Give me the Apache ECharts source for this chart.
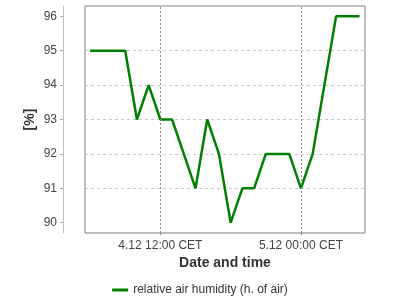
<!DOCTYPE html>
<html>
<head>
<meta charset="utf-8">
<script src="https://cdn.jsdelivr.net/npm/echarts@6/dist/echarts.min.js"></script>
<style>html,body{margin:0;padding:0;background:#fff;}#c{width:400px;height:300px;}</style>
</head>
<body>
<div id="c"></div>
<script>
// Time stamps (day.month hour:minute, CET) and relative humidity values [%]
const times = ['4.12 06:00','4.12 07:00','4.12 08:00','4.12 09:00','4.12 10:00','4.12 11:00',
  '4.12 12:00','4.12 13:00','4.12 14:00','4.12 15:00','4.12 16:00','4.12 17:00','4.12 18:00',
  '4.12 19:00','4.12 20:00','4.12 21:00','4.12 22:00','4.12 23:00','5.12 00:00','5.12 01:00',
  '5.12 02:00','5.12 03:00','5.12 04:00','5.12 05:00'];
const humidity = [95,95,95,95,93,94,93,93,92,91,93,92,90,91,91,92,92,92,91,92,94,96,96,96];
const xTickLabels = ['4.12 12:00','5.12 00:00'];
const yTicks = [90,91,92,93,94,95,96];
const seriesName = 'relative air humidity (h. of air)';
const xTitle = 'Date and time';
const yTitle = '[%]';
const BASE_DAY = 4, BASE_MONTH = 12;

// convert 'd.m HH:MM' to hours since 4.12 00:00
function toHours(s){
  const [dm, hm] = s.split(' ');
  const [d] = dm.split('.').map(Number);
  const [h, mi] = hm.split(':').map(Number);
  return (d - BASE_DAY) * 24 + h + mi / 60;
}
function fromHours(v){
  const day = BASE_DAY + Math.floor(v / 24 + 1e-9);
  const hh = Math.round(v - (day - BASE_DAY) * 24);
  const pad = n => (n < 10 ? '0' : '') + n;
  return day + '.' + BASE_MONTH + ' ' + pad(hh) + ':00 CET';
}
const data = times.map((t, i) => [toHours(t), humidity[i]]);
const xTicks = xTickLabels.map(toHours);
const xMin = toHours('4.12 05:34');
const xMax = toHours('5.12 05:28');

const chart = echarts.init(document.getElementById('c'), null, {renderer:'canvas'});
chart.setOption({
  animation: false,
  textStyle: {fontFamily: 'Liberation Sans, Arial, sans-serif'},
  grid: {left: 85, top: 6, right: 35, bottom: 67, show: true, borderColor: '#808080', borderWidth: 1, backgroundColor: '#fff'},
  xAxis: {
    type: 'value', min: xMin, max: xMax,
    name: xTitle, nameLocation: 'middle', nameGap: 23, nameMoveOverlap: false,
    nameTextStyle: {fontSize: 14, fontWeight: 'bold', color: '#333'},
    axisLine: {show: false},
    axisTick: {show: true, length: 3, lineStyle: {color: '#888', type: [2,2]}, customValues: xTicks},
    axisLabel: {margin: 7, fontSize: 12, color: '#444', hideOverlap: false, customValues: xTicks,
      formatter: fromHours},
    splitLine: {show: false}
  },
  yAxis: {
    type: 'value', min: 89.7, max: 96.3, offset: 22,
    name: yTitle, nameLocation: 'middle', nameGap: 26, nameMoveOverlap: false,
    nameTextStyle: {fontSize: 14, fontWeight: 'bold', color: '#333'},
    axisLine: {show: true, lineStyle: {color: '#c0c0c0'}},
    axisTick: {show: true, length: 3, lineStyle: {color: '#aaa'}, customValues: yTicks},
    axisLabel: {margin: 6, fontSize: 12, color: '#444', customValues: yTicks},
    splitLine: {show: true, showMinLine: false, showMaxLine: false, lineStyle: {color: '#c8c8c8', type: [3,3]}}
  },
  legend: {
    top: 279, left: 'center', icon: 'rect', itemWidth: 16, itemHeight: 3,
    textStyle: {fontSize: 12, color: '#333'}
  },
  series: [{
    name: seriesName, type: 'line', data: data, showSymbol: false, symbol: 'none',
    lineStyle: {color: '#008000', width: 2.5}, itemStyle: {color: '#008000'},
    markLine: {
      silent: true, symbol: ['none','none'], label: {show: false}, animation: false,
      lineStyle: {color: '#888', type: [2,2], width: 1},
      emphasis: {disabled: true},
      data: xTicks.map(v => ({xAxis: v}))
    },
    z: 3
  }]
});
</script>
</body>
</html>
